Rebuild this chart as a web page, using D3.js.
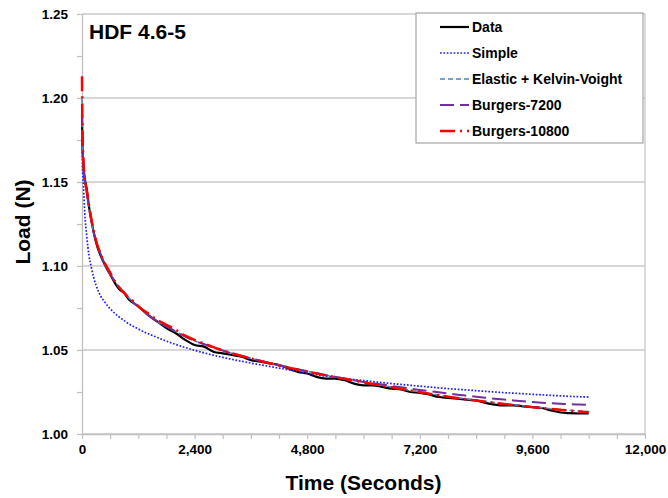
<!DOCTYPE html>
<html>
<head>
<meta charset="utf-8">
<script src="https://cdn.jsdelivr.net/npm/d3@7"></script>
<style>
  html, body { margin: 0; padding: 0; background: #fff; }
  svg { display: block; }
  text { font-family: "Liberation Sans", Arial, sans-serif; font-weight: bold; fill: #000; }
</style>
</head>
<body>
<svg id="chart" width="668" height="498"></svg>
<script>
// ---------- DATA ----------
const chartTitle = "HDF 4.6-5";
const xTickValues = [0, 2400, 4800, 7200, 9600, 12000];
const yTickValues = [1.00, 1.05, 1.10, 1.15, 1.20, 1.25];

const time = [0, 10, 30, 60, 100, 150, 200, 250, 300, 400, 500, 600, 700, 800, 900, 1000, 1100, 1200,
  1400, 1600, 1800, 2000, 2200, 2400, 2600, 2800, 3000, 3200, 3400, 3600, 3800, 4000, 4200, 4400, 4600,
  4800, 5000, 5200, 5400, 5600, 5800, 6000, 6200, 6400, 6600, 6800, 7000, 7200, 7400, 7600, 7800, 8000,
  8200, 8400, 8600, 8800, 9000, 9200, 9400, 9600, 9800, 10000, 10200, 10400, 10600, 10800];

const dataLoad = [1.190, 1.172, 1.160, 1.152, 1.146, 1.135, 1.127, 1.120, 1.114, 1.106, 1.100, 1.095, 1.090,
  1.086, 1.084, 1.080, 1.078, 1.076, 1.071, 1.067, 1.063, 1.060, 1.056, 1.053, 1.052, 1.049, 1.048, 1.047,
  1.046, 1.044, 1.043, 1.042, 1.041, 1.039, 1.037, 1.036, 1.034, 1.033, 1.033, 1.032, 1.030, 1.029, 1.029,
  1.028, 1.027, 1.0265, 1.025, 1.0245, 1.0235, 1.022, 1.0215, 1.021, 1.0205, 1.020, 1.0185, 1.0175, 1.017,
  1.017, 1.0165, 1.016, 1.0155, 1.014, 1.0128, 1.0124, 1.0122, 1.0123];

const simpleLoad = [1.178, 1.160, 1.148, 1.131, 1.118, 1.106, 1.099, 1.093, 1.0885, 1.082, 1.078, 1.0745,
  1.0718, 1.0695, 1.0675, 1.0655, 1.064, 1.0625, 1.0598, 1.0575, 1.0553, 1.0533, 1.0515, 1.0498, 1.0483,
  1.0469, 1.0456, 1.0444, 1.0433, 1.0422, 1.0412, 1.0402, 1.0392, 1.0382, 1.0372, 1.0362, 1.0353, 1.0345,
  1.0338, 1.0331, 1.0324, 1.0318, 1.0312, 1.0306, 1.0300, 1.0295, 1.029, 1.0285, 1.028, 1.0275, 1.027,
  1.0266, 1.0262, 1.0258, 1.0254, 1.025, 1.0246, 1.0243, 1.024, 1.0236, 1.0233, 1.023, 1.0227, 1.0224,
  1.0222, 1.022];

const elasticKVLoad = [1.200, 1.176, 1.161, 1.151, 1.144, 1.135, 1.127, 1.120, 1.115, 1.107, 1.100, 1.095,
  1.091, 1.087, 1.084, 1.081, 1.078, 1.076, 1.071, 1.067, 1.064, 1.061, 1.058, 1.0555, 1.0535, 1.0515,
  1.0497, 1.048, 1.0465, 1.045, 1.0436, 1.0422, 1.041, 1.0397, 1.0385, 1.0373, 1.0362, 1.035, 1.034, 1.033,
  1.032, 1.031, 1.030, 1.029, 1.028, 1.027, 1.026, 1.025, 1.0241, 1.0232, 1.0224, 1.0216, 1.0208, 1.0201,
  1.0194, 1.0187, 1.018, 1.0174, 1.0168, 1.0162, 1.0156, 1.015, 1.0145, 1.0141, 1.0137, 1.0133];

const burgers7200Load = [1.192, 1.174, 1.160, 1.151, 1.144, 1.135, 1.127, 1.120, 1.115, 1.107, 1.100, 1.095,
  1.091, 1.087, 1.084, 1.081, 1.078, 1.076, 1.071, 1.067, 1.064, 1.061, 1.058, 1.0555, 1.0535, 1.0515,
  1.0497, 1.048, 1.0465, 1.045, 1.0436, 1.0422, 1.041, 1.0397, 1.0385, 1.0373, 1.0362, 1.035, 1.034, 1.033,
  1.032, 1.031, 1.0302, 1.0294, 1.0286, 1.0278, 1.027, 1.0262, 1.0255, 1.0248, 1.0241, 1.0234, 1.0228,
  1.0222, 1.0216, 1.021, 1.0205, 1.02, 1.0195, 1.019, 1.0186, 1.0183, 1.018, 1.0177, 1.0175, 1.0173];

const burgers10800Load = [1.213, 1.180, 1.163, 1.152, 1.145, 1.136, 1.128, 1.121, 1.115, 1.107, 1.101, 1.096,
  1.091, 1.087, 1.084, 1.081, 1.079, 1.076, 1.072, 1.068, 1.065, 1.062, 1.0585, 1.056, 1.0538, 1.0517,
  1.0498, 1.048, 1.0464, 1.0449, 1.0435, 1.0421, 1.0408, 1.0395, 1.0383, 1.0371, 1.036, 1.0349, 1.0338,
  1.0328, 1.0318, 1.0308, 1.0298, 1.0288, 1.0278, 1.0268, 1.0258, 1.0249, 1.024, 1.0231, 1.0222, 1.0214,
  1.0206, 1.0199, 1.0192, 1.0185, 1.0178, 1.0172, 1.0166, 1.016, 1.0154, 1.0149, 1.0144, 1.0139, 1.0134, 1.013];

const seriesNames = ["Data", "Simple", "Elastic + Kelvin-Voight", "Burgers-7200", "Burgers-10800"];
const seriesValues = [dataLoad, simpleLoad, elasticKVLoad, burgers7200Load, burgers10800Load];
const seriesColors = ["#000000", "#1f1fff", "#4f81bd", "#7030a0", "#ff0000"];
const seriesWidths = [2.2, 1.7, 1.6, 2, 2.5];
const seriesDash = [null, "1.7,1.7", "5,3", "14,6", "15,5,2,5"];

// ---------- LAYOUT ----------
const svg = d3.select("#chart");
const mLeft = 82, mRight = 645, mTop = 14, mBottom = 434;

const x = d3.scaleLinear().domain([0, 12000]).range([mLeft, mRight]);
const y = d3.scaleLinear().domain([1.00, 1.25]).range([mBottom, mTop]);

// gridlines
svg.append("g").selectAll("line").data(yTickValues).join("line")
  .attr("x1", mLeft).attr("x2", mRight)
  .attr("y1", d => y(d)).attr("y2", d => y(d))
  .attr("stroke", "#c8c8c8").attr("stroke-width", 1.3);

// right border
svg.append("line").attr("x1", mRight).attr("x2", mRight).attr("y1", mTop).attr("y2", mBottom)
  .attr("stroke", "#c8c8c8").attr("stroke-width", 1.3);

// axes
const xAxis = d3.axisBottom(x).tickValues(d3.range(0, 12001, 600))
  .tickFormat(d => xTickValues.includes(d) ? d3.format(",")(d) : "")
  .tickSizeInner(5).tickSizeOuter(0).tickPadding(5);
const gx = svg.append("g").attr("transform", `translate(0,${mBottom})`).call(xAxis);
gx.select(".domain").attr("stroke", "#bfbfbf").attr("stroke-width", 1.3);
gx.selectAll(".tick line").attr("stroke", "#bfbfbf").attr("stroke-width", 1.2);
gx.selectAll(".tick text").style("font-size", "13.5px").style("font-family", "Liberation Sans, Arial, sans-serif")
  .style("font-weight", "bold").attr("fill", "#000");

const yAxis = d3.axisLeft(y).tickValues(d3.range(0, 11).map(i => 1 + i * 0.025))
  .tickFormat((d, i) => i % 2 === 0 ? d3.format(".2f")(d) : "")
  .tickSizeInner(5).tickSizeOuter(0).tickPadding(9);
const gy = svg.append("g").attr("transform", `translate(${mLeft},0)`).call(yAxis);
gy.select(".domain").attr("stroke", "#bfbfbf").attr("stroke-width", 1.3);
gy.selectAll(".tick line").attr("stroke", "#bfbfbf").attr("stroke-width", 1.2);
gy.selectAll(".tick text").style("font-size", "13.5px").style("font-family", "Liberation Sans, Arial, sans-serif")
  .style("font-weight", "bold").attr("fill", "#000");

// series
const line = d3.line().x(d => x(d[0])).y(d => y(d[1])).curve(d3.curveMonotoneX);
seriesValues.forEach((vals, i) => {
  const pts = time.map((t, k) => [t, vals[k]]);
  svg.append("path").datum(pts)
    .attr("d", line)
    .attr("fill", "none")
    .attr("stroke", seriesColors[i])
    .attr("stroke-width", seriesWidths[i])
    .attr("stroke-dasharray", seriesDash[i])
    .attr("stroke-linejoin", "round");
});

// title
svg.append("text").attr("x", 89).attr("y", 39).style("font-size", "21px").text(chartTitle);

// axis titles
svg.append("text").attr("x", (mLeft + mRight) / 2).attr("y", 490).attr("text-anchor", "middle")
  .style("font-size", "21px").text("Time (Seconds)");
svg.append("text").attr("transform", `translate(30,222) rotate(-90)`).attr("text-anchor", "middle")
  .style("font-size", "21px").text("Load (N)");

// legend
const lg = svg.append("g");
lg.append("rect").attr("x", 416).attr("y", 13).attr("width", 227).attr("height", 130)
  .attr("fill", "#fff").attr("stroke", "#a6a6a6").attr("stroke-width", 1.2);
seriesNames.forEach((name, i) => {
  const cy = 27 + i * 26;
  lg.append("line").attr("x1", 440).attr("x2", 469).attr("y1", cy).attr("y2", cy)
    .attr("stroke", seriesColors[i]).attr("stroke-width", seriesWidths[i])
    .attr("stroke-dasharray", seriesDash[i]);
  lg.append("text").attr("x", 472).attr("y", cy).attr("dy", "0.35em")
    .style("font-size", "14px").text(name);
});
</script>
</body>
</html>
